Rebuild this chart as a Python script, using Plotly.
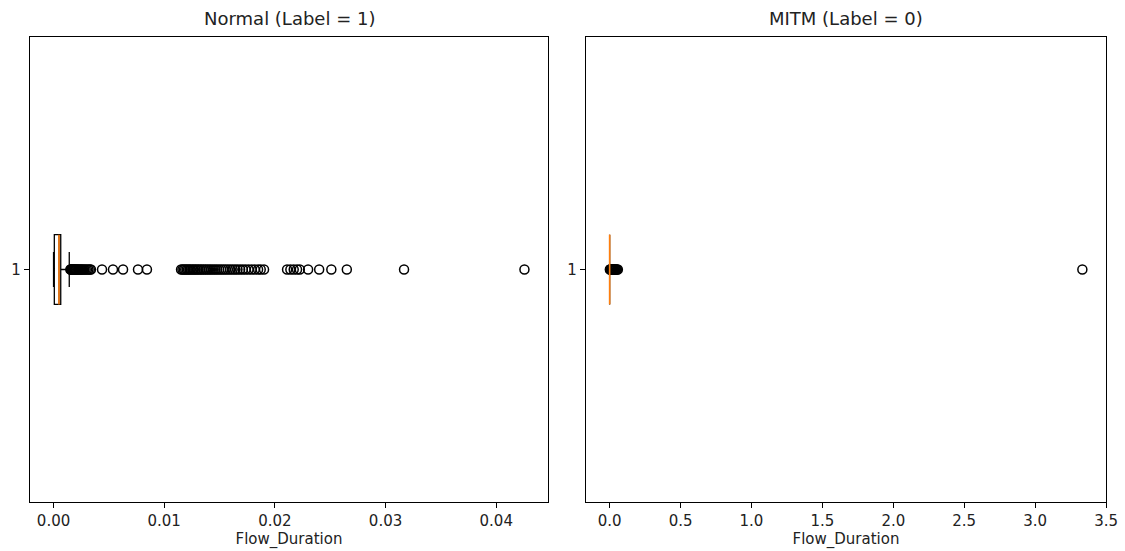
import plotly.graph_objects as go

# ---------------- data ----------------
stat_names = ["lowerfence", "q1", "median", "q3", "upperfence"]
normal_stats = [0.0, 0.00007, 0.00049, 0.00065, 0.00142]
mitm_stats = [0.0, 0.0, 0.0, 0.0, 0.0]

normal_outliers = [
    0.00152, 0.00156, 0.00160, 0.00165, 0.00170, 0.00175, 0.00181, 0.00187,
    0.00193, 0.00200, 0.00207, 0.00214, 0.00222, 0.00230, 0.00239, 0.00248,
    0.00257, 0.00267, 0.00278, 0.00290, 0.00302, 0.00315, 0.00328, 0.00338,
    0.00438, 0.00537, 0.00628, 0.00763, 0.00844,
    0.01152, 0.01165, 0.01178, 0.01190, 0.01203, 0.01215, 0.01228, 0.01240,
    0.01255, 0.01268, 0.01282, 0.01296, 0.01310, 0.01325, 0.01340, 0.01356,
    0.01372, 0.01388, 0.01405, 0.01422, 0.01440, 0.01458, 0.01476, 0.01495,
    0.01514, 0.01534, 0.01554, 0.01575, 0.01596, 0.01618, 0.01640, 0.01662,
    0.01686, 0.01710, 0.01735, 0.01762, 0.01790, 0.01818, 0.01848, 0.01872,
    0.01902,
    0.02110, 0.02140, 0.02170, 0.02200, 0.02225, 0.02300, 0.02400, 0.02510,
    0.02650, 0.03167, 0.04255,
]
mitm_outliers = [
    0.0015, 0.004, 0.007, 0.010, 0.014, 0.018, 0.022, 0.026, 0.031, 0.036,
    0.041, 0.046, 0.052, 0.058, 3.333,
]

titles = ["Normal (Label = 1)", "MITM (Label = 0)"]
x_label = "Flow_Duration"
box_position = [1]
y_tick_labels = ["1"]

# ---------------- style ----------------
BOX_WIDTH = 0.15
FONT = "DejaVu Sans"
MEDIAN_COLOR = "#ff7f0e"
LINE = "black"

fig = go.Figure()

panels = [
    (normal_stats, normal_outliers, "x", "y", ".2f", 0.01),
    (mitm_stats, mitm_outliers, "x2", "y2", ".1f", 0.5),
]

for stats, outliers, xa, ya, fmt, dt in panels:
    kw = {name: [v] for name, v in zip(stat_names, stats)}
    fig.add_trace(go.Box(
        y=box_position, orientation="h", width=BOX_WIDTH, whiskerwidth=0.5,
        fillcolor="white", line=dict(color=LINE, width=1.3),
        boxpoints=False, showlegend=False, xaxis=xa, yaxis=ya, hoverinfo="skip",
        **kw,
    ))
    fig.add_trace(go.Scatter(
        x=outliers, y=box_position * len(outliers), mode="markers",
        marker=dict(symbol="circle-open", size=9, color=LINE, line=dict(width=1.5)),
        showlegend=False, xaxis=xa, yaxis=ya,
    ))
    med = stats[2]
    fig.add_trace(go.Scatter(
        x=[med, med],
        y=[box_position[0] - BOX_WIDTH / 2, box_position[0] + BOX_WIDTH / 2],
        mode="lines", line=dict(color=MEDIAN_COLOR, width=1.6),
        showlegend=False, xaxis=xa, yaxis=ya,
    ))

def xrange_of(stats, outliers):
    vals = list(stats) + list(outliers)
    lo, hi = min(vals), max(vals)
    pad = 0.05 * (hi - lo)
    return [lo - pad, hi + pad]

dom_y = [49 / 551, 514 / 551]
doms_x = [[30 / 1125, 548 / 1125], [586 / 1125, 1106 / 1125]]

axis_common = dict(
    showgrid=False, zeroline=False, showline=True, linecolor=LINE, linewidth=1.2,
    mirror=True, ticks="outside", ticklen=5, tickwidth=1.2, tickcolor=LINE,
    tickfont=dict(family=FONT, size=15, color="#222"),
)

layout = dict(
    width=1125, height=551, margin=dict(l=0, r=0, t=0, b=0),
    paper_bgcolor="white", plot_bgcolor="white",
    font=dict(family=FONT, color="#222"),
    showlegend=False,
)
for i, (stats, outliers, xa, ya, fmt, dt) in enumerate(panels):
    xk = "xaxis" if i == 0 else "xaxis2"
    yk = "yaxis" if i == 0 else "yaxis2"
    layout[xk] = dict(
        axis_common, domain=doms_x[i], range=xrange_of(stats, outliers),
        tickformat=fmt, dtick=dt, tick0=0, anchor=ya, automargin=False,
        title=dict(text=x_label, font=dict(family=FONT, size=15, color="#222"), standoff=4),
    )
    layout[yk] = dict(
        axis_common, domain=dom_y, range=[0.5, 1.5], tickmode="array",
        tickvals=box_position, ticktext=y_tick_labels, anchor=xa, automargin=False,
    )

annotations = []
for i, t in enumerate(titles):
    annotations.append(dict(
        text=t, x=(doms_x[i][0] + doms_x[i][1]) / 2, y=dom_y[1], xref="paper", yref="paper",
        xanchor="center", yanchor="bottom", yshift=6, showarrow=False,
        font=dict(family=FONT, size=18, color="#222"),
    ))
layout["annotations"] = annotations

fig.update_layout(**layout)
fig.write_html(
    "out.html",
    config={"displayModeBar": False},
    post_script="document.body.style.margin='0';document.body.style.padding='0';",
)
